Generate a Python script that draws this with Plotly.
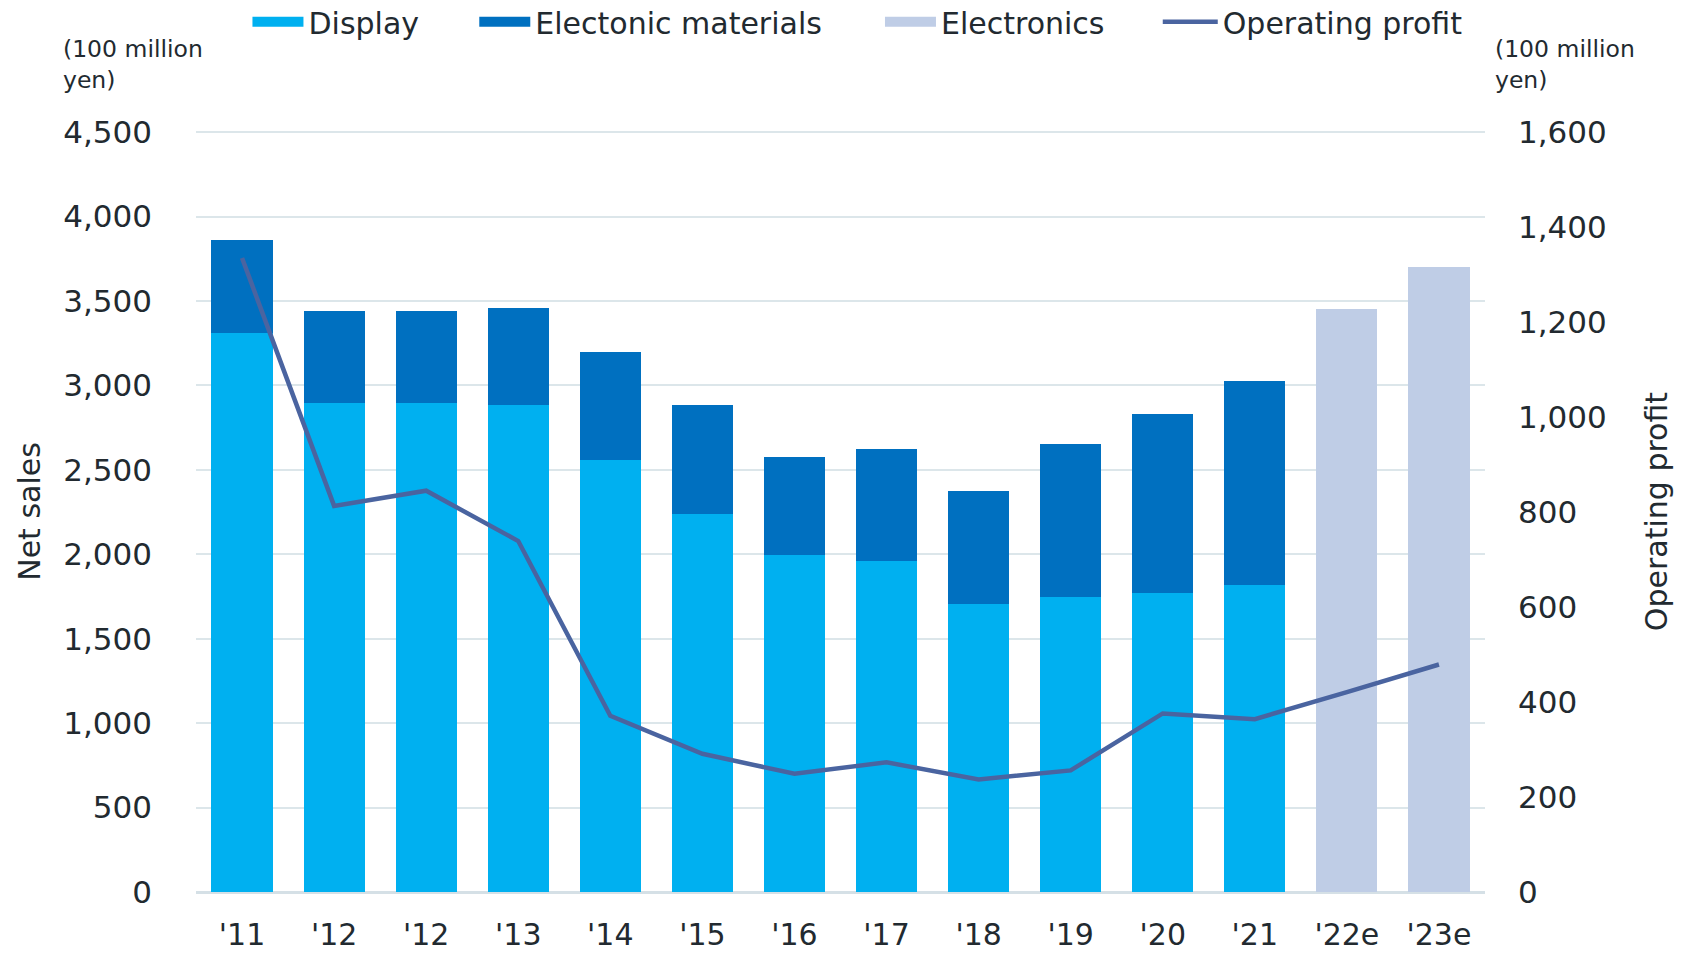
import plotly.graph_objects as go

labels = ["'11", "'12", "'12", "'13", "'14", "'15", "'16", "'17", "'18", "'19", "'20", "'21", "'22e", "'23e"]
display = [3310, 2894, 2894, 2884, 2559, 2238, 1997, 1962, 1707, 1748, 1773, 1819, None, None]
electronic_materials = [554, 546, 546, 575, 637, 646, 581, 660, 668, 903, 1056, 1209, None, None]
electronics = [None] * 12 + [3450, 3700]
operating_profit = [1335, 813, 845, 739, 371, 291, 249, 273, 237, 256, 376, 364, 421, 479]

x = list(range(len(labels)))

FONT = "DejaVu Sans"
TXT = "#222a30"
C_DISP = "#00B0F0"
C_EM = "#0070C0"
C_ELEC = "#BFCDE6"
C_LINE = "#4A64A0"

# pixel geometry helpers
L, R, T, B = 195.5, 1485.5, 130.7, 891.7
W, H = R - L, B - T
def px(xp):
    return (xp - L) / W
def py(yp):
    return (B - yp) / H

Y1_MAX, Y2_MAX = 4500, 1600
PAD = 1.0015  # keep top gridline just inside the plot area

fig = go.Figure()
fig.add_trace(go.Bar(x=x, y=display, name="Display", marker=dict(color=C_DISP, line=dict(width=0)),
                     showlegend=False))
fig.add_trace(go.Bar(x=x, y=electronic_materials, name="Electonic materials",
                     marker=dict(color=C_EM, line=dict(width=0)), showlegend=False))
fig.add_trace(go.Bar(x=x, y=electronics, name="Electronics", marker=dict(color=C_ELEC, line=dict(width=0)),
                     showlegend=False))
fig.add_trace(go.Scatter(x=x, y=operating_profit, name="Operating profit", mode="lines",
                         line=dict(color=C_LINE, width=4.5), yaxis="y2", legend="legend4",
                         showlegend=True))
# legend swatches for the bar series (wide rectangles, as in the reference)
for nm, col, lg in [("Display", C_DISP, "legend"), ("Electonic materials", C_EM, "legend2"),
                    ("Electronics", C_ELEC, "legend3")]:
    fig.add_trace(go.Scatter(x=[None], y=[None], name=nm, mode="lines",
                             line=dict(color=col, width=17), legend=lg, showlegend=True,
                             hoverinfo="skip"))

leg_common = dict(orientation="h", yanchor="middle", y=py(21.5), xanchor="left",
                  font=dict(family=FONT, size=30, color=TXT), bgcolor="rgba(0,0,0,0)")
fig.update_layout(
    width=1684, height=953, showlegend=True,
    margin=dict(l=L, r=1684 - R, t=T, b=953 - B, autoexpand=False),
    paper_bgcolor="white", plot_bgcolor="white",
    barmode="stack", bargap=0.336,
    font=dict(family=FONT, size=30, color=TXT),
    legend=dict(x=px(247), itemwidth=51, **leg_common),
    legend2=dict(x=px(474), itemwidth=51, **leg_common),
    legend3=dict(x=px(880), itemwidth=51, **leg_common),
    legend4=dict(x=px(1158), itemwidth=55, **leg_common),
    xaxis=dict(tickmode="array", tickvals=x, ticktext=labels, range=[-0.5, len(labels) - 0.5],
               showgrid=False, zeroline=False, showline=False, ticks="",
               ticklabelstandoff=22, tickfont=dict(size=30, color=TXT)),
    yaxis=dict(range=[0, Y1_MAX * PAD], dtick=500, tickformat=",", showgrid=True, gridcolor="#DCE6EA",
               gridwidth=2, zeroline=True, zerolinecolor="#D5E0E6", zerolinewidth=3,
               showline=False, ticks="", ticklabelstandoff=43,
               tickfont=dict(size=31, color=TXT),
               title=dict(text="Net sales", font=dict(size=30, color=TXT), standoff=13)),
    yaxis2=dict(range=[0, Y2_MAX * PAD], dtick=200, tickformat=",", overlaying="y", side="right",
                showgrid=False, zeroline=False, showline=False, ticks="", ticklabelstandoff=32,
                tickfont=dict(size=31, color=TXT),
                title=dict(text="Operating profit", font=dict(size=30, color=TXT), standoff=40)),
    annotations=[
        dict(text="(100 million<br>yen)", xref="paper", yref="paper", x=px(60), y=py(64.5),
             xanchor="left", yanchor="middle", align="left", showarrow=False,
             font=dict(family=FONT, size=23.5, color=TXT)),
        dict(text="(100 million<br>yen)", xref="paper", yref="paper", x=px(1494), y=py(64.5),
             xanchor="left", yanchor="middle", align="left", showarrow=False,
             font=dict(family=FONT, size=23.5, color=TXT)),
    ],
)

fig.write_html("out.html", config={"displayModeBar": False},
               post_script="document.body.style.margin='0px';")
